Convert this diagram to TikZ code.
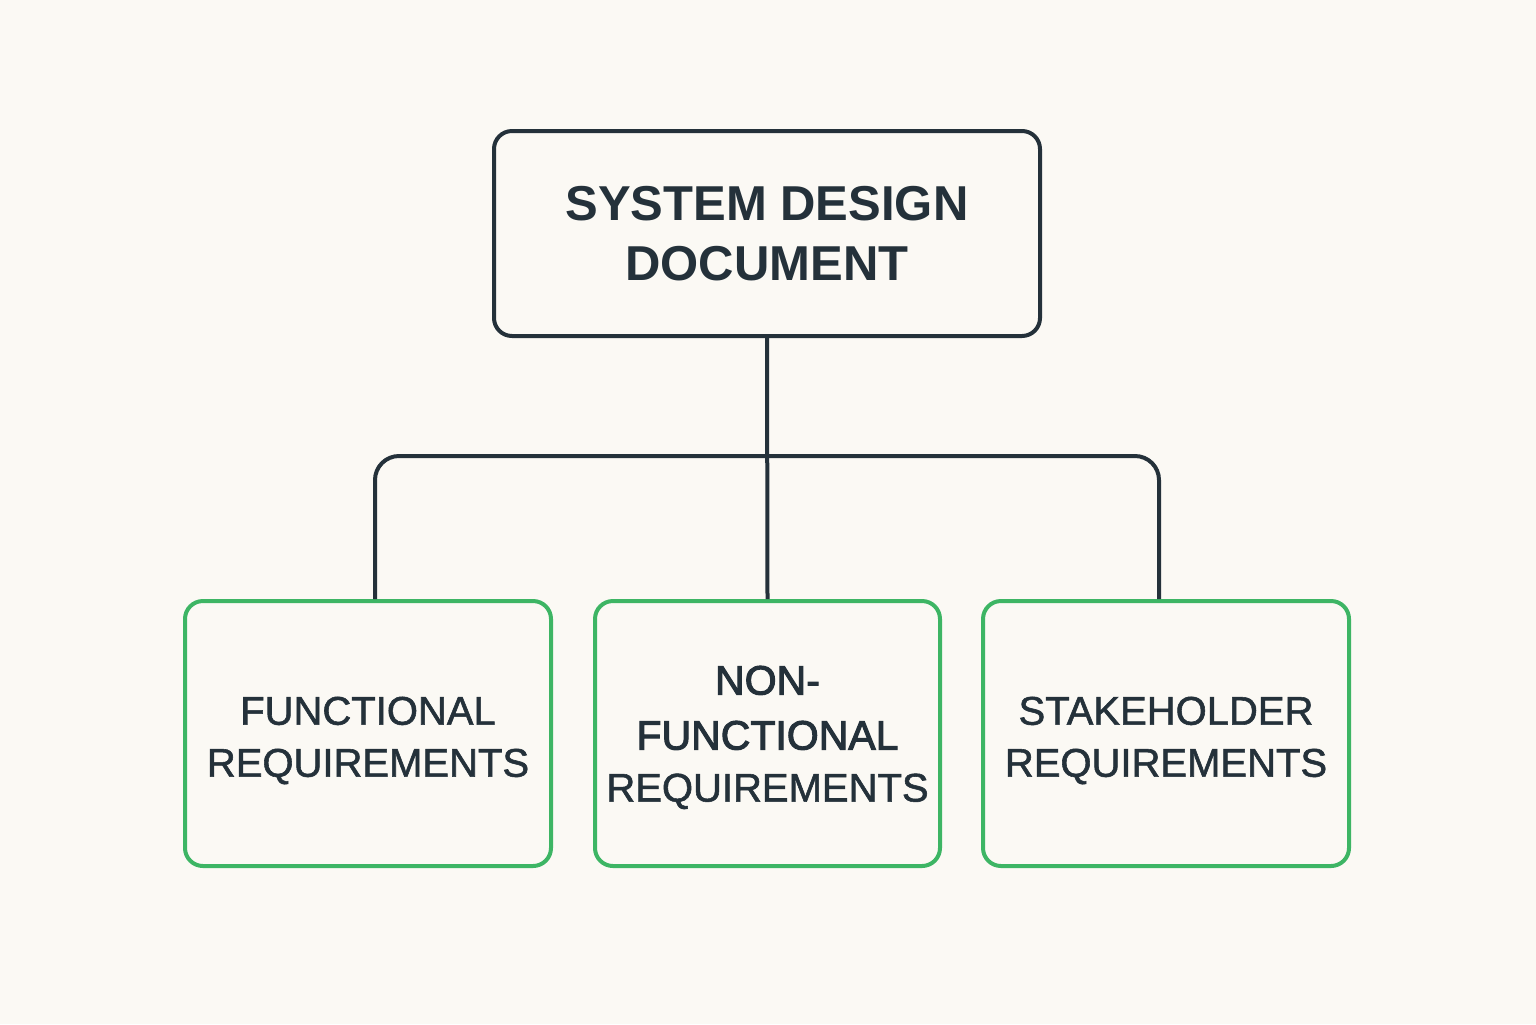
\documentclass[tikz,border=0pt]{standalone}
\usepackage{fontspec}
\setmainfont{Liberation Sans}
\newfontfamily\medfont[FakeBold=1.4]{Liberation Sans}
\newfontfamily\semifont[FakeBold=2.6]{Liberation Sans}
\definecolor{bg}{HTML}{FBF9F4}
\definecolor{ink}{HTML}{24313A}
\definecolor{grn}{HTML}{3DB564}
\newcommand{\bigln}[1]{{\semifont\fontsize{20.5}{28}\selectfont #1}}
\tikzset{
  topbox/.style={draw=ink, line width=2pt, rounded corners=9pt, fill=bg,
    minimum width=273pt, minimum height=102.5pt, align=center, text=ink,
    font=\bfseries\fontsize{24.5}{30}\selectfont, inner sep=0pt},
  reqbox/.style={draw=grn, line width=2pt, rounded corners=9pt, fill=bg,
    minimum width=183pt, minimum height=132.5pt, inner sep=0pt},
  reqtext/.style={align=center, text=ink, inner sep=0pt,
    font=\medfont\fontsize{20}{26}\selectfont},
  conn/.style={draw=ink, line width=2pt, rounded corners=12pt}
}
\begin{document}
\begin{tikzpicture}[x=0.5pt,y=-0.5pt]
\fill[bg] (0,0) rectangle (1536,1024);
\useasboundingbox (0,0) rectangle (1536,1024);
\node[topbox] (top) at (767,233.5) {SYSTEM DESIGN\\DOCUMENT};
\node[reqbox] (b1) at (368,733.5) {};
\node[reqbox, minimum width=172.5pt] (b2) at (767.5,733.5) {};
\node[reqbox] (b3) at (1166,733.5) {};
\node[reqtext] (t1) at ([yshift=-3.5pt]b1.center) {FUNCTIONAL\\REQUIREMENTS};
\node[reqtext] (t2) at ([yshift=-2pt]b2.center)
  {\bigln{NON-}\\[1.5pt]\bigln{FUNCTIONAL}\\REQUIREMENTS};
\node[reqtext] (t3) at ([yshift=-3.5pt]b3.center) {STAKEHOLDER\\REQUIREMENTS};
\coordinate (bus) at (767,456);
\draw[conn] ([xshift=3.5pt]b1.north) |- (bus) -| ([xshift=-3.5pt]b3.north);
\draw[conn] (top.south) -- (b2.north);
\end{tikzpicture}
\end{document}
